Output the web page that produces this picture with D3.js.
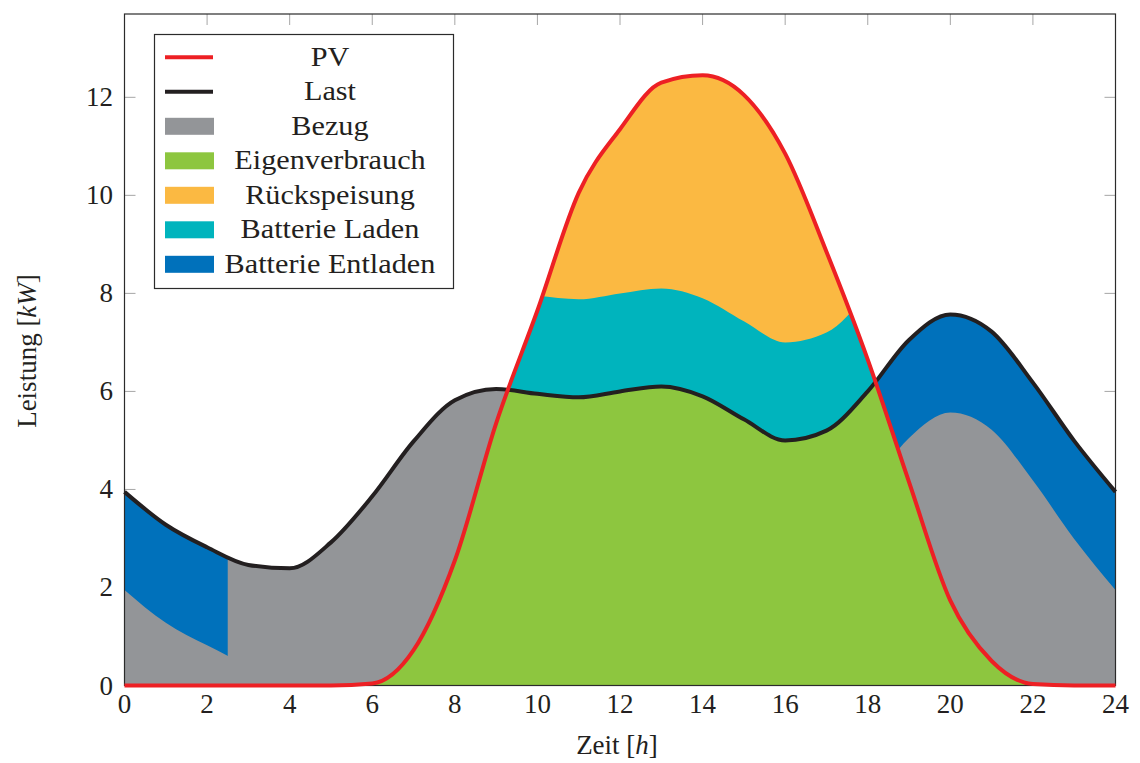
<!DOCTYPE html>
<html>
<head>
<meta charset="utf-8">
<script src="https://cdn.jsdelivr.net/npm/d3@7"></script>
<style>
  html, body { margin: 0; padding: 0; background: #fff; }
  svg { display: block; }
  text { font-family: "Liberation Serif", "DejaVu Serif", serif; fill: #231f20; }
</style>
</head>
<body>
<svg id="chart" width="1140" height="763"></svg>
<script>
// Time of day [h]
const hours = [0, 1, 2, 3, 4, 5, 6, 7, 8, 9, 10, 11, 12, 13, 14, 15, 16, 17, 18, 19, 20, 21, 22, 23, 24];
// PV generation [kW]
const pvPower = [0, 0, 0, 0, 0, 0, 0.04, 0.72, 2.55, 5.35, 7.65, 10.05, 11.35, 12.3, 12.45, 12.05, 10.85, 8.85, 6.65, 4.15, 1.73, 0.5, 0.03, 0, 0];
// Household load [kW]
const loadPower = [3.95, 3.28, 2.82, 2.46, 2.39, 2.92, 3.86, 4.98, 5.82, 6.05, 5.95, 5.88, 6.0, 6.1, 5.9, 5.43, 5.0, 5.2, 6.0, 7.05, 7.57, 7.22, 6.18, 4.99, 3.95];
// Battery: charge/discharge power [kW] and the periods in which it discharges [h]
const batteryPower = 2;
const dischargeWindows = [[0, 2.5], [18, 24]];

const xTicks = [0, 2, 4, 6, 8, 10, 12, 14, 16, 18, 20, 22, 24];
const yTicks = [0, 2, 4, 6, 8, 10, 12];
const yMax = 13.7;

const seriesNames = ["PV", "Last", "Bezug", "Eigenverbrauch", "Rückspeisung", "Batterie Laden", "Batterie Entladen"];

// ---- styling ----
const colors = {
  pv: "#ed2024",
  load: "#231f20",
  grid: "#939598",
  self: "#8dc63f",
  feed: "#fbb942",
  charge: "#00b4bd",
  discharge: "#0071bb"
};
const legendStyle = [
  { type: "line", color: colors.pv },
  { type: "line", color: colors.load },
  { type: "box", color: colors.grid },
  { type: "box", color: colors.self },
  { type: "box", color: colors.feed },
  { type: "box", color: colors.charge },
  { type: "box", color: colors.discharge }
];

const svg = d3.select("#chart");
const plot = { left: 124.5, right: 1115.5, top: 14, bottom: 685.5 };
const fontSize = 27;

const x = d3.scaleLinear().domain([0, 24]).range([plot.left, plot.right]);
const y = d3.scaleLinear().domain([0, yMax]).range([plot.bottom, plot.top]);

const rows = hours.map((h, i) => ({ h, pv: pvPower[i], load: loadPower[i] }));
const curve = d3.curveMonotoneX;

const defs = svg.append("defs");
defs.append("clipPath").attr("id", "plotClip")
  .append("rect")
  .attr("x", plot.left).attr("y", plot.top)
  .attr("width", plot.right - plot.left).attr("height", plot.bottom - plot.top);

// region under the PV curve
defs.append("clipPath").attr("id", "underPV")
  .append("path")
  .attr("d", d3.area().curve(curve).x(d => x(d.h)).y0(y(0)).y1(d => y(d.pv))(rows));

// periods in which the battery discharges
const dc = defs.append("clipPath").attr("id", "dischargeClip");
dischargeWindows.forEach(([a, b]) => {
  dc.append("rect")
    .attr("x", x(a)).attr("y", plot.top)
    .attr("width", x(b) - x(a)).attr("height", plot.bottom - plot.top);
});

// ---- ticks (drawn beneath the areas) ----
const tickLen = 11;
const ticks = svg.append("g").attr("stroke", "#a6a6a6").attr("stroke-width", 1);
xTicks.forEach(t => {
  ticks.append("line").attr("x1", x(t)).attr("x2", x(t)).attr("y1", plot.bottom).attr("y2", plot.bottom - tickLen);
  ticks.append("line").attr("x1", x(t)).attr("x2", x(t)).attr("y1", plot.top).attr("y2", plot.top + tickLen);
});
yTicks.forEach(t => {
  ticks.append("line").attr("x1", plot.left).attr("x2", plot.left + tickLen).attr("y1", y(t)).attr("y2", y(t));
  ticks.append("line").attr("x1", plot.right).attr("x2", plot.right - tickLen).attr("y1", y(t)).attr("y2", y(t));
});

// ---- energy flow areas ----
const areas = svg.append("g").attr("clip-path", "url(#plotClip)");

// grid import: everything under the load
areas.append("path")
  .attr("fill", colors.grid)
  .attr("d", d3.area().curve(curve).x(d => x(d.h)).y0(y(0)).y1(d => y(d.load))(rows));

// battery discharge: top band of the load during discharge periods
areas.append("g").attr("clip-path", "url(#dischargeClip)")
  .append("path")
  .attr("fill", colors.discharge)
  .attr("d", d3.area().curve(curve).x(d => x(d.h))
    .y0(d => y(d.load - batteryPower)).y1(d => y(d.load))(rows));

// self consumption: PV up to the load
areas.append("path")
  .attr("fill", colors.self)
  .attr("d", d3.area().curve(curve).x(d => x(d.h)).y0(y(0)).y1(d => y(d.pv))(rows));

// feed-in: PV above load
areas.append("g").attr("clip-path", "url(#underPV)")
  .append("path")
  .attr("fill", colors.feed)
  .attr("d", d3.area().curve(curve).x(d => x(d.h)).y0(d => y(d.load)).y1(y(yMax))(rows));

// battery charging: first band of PV surplus above the load
areas.append("g").attr("clip-path", "url(#underPV)")
  .append("path")
  .attr("fill", colors.charge)
  .attr("d", d3.area().curve(curve).x(d => x(d.h))
    .y0(d => y(d.load)).y1(d => y(d.load + batteryPower))(rows));

// ---- frame ----
svg.append("rect")
  .attr("x", plot.left).attr("y", plot.top)
  .attr("width", plot.right - plot.left).attr("height", plot.bottom - plot.top)
  .attr("fill", "none").attr("stroke", "#2b2b2b").attr("stroke-width", 1.2);

// ---- lines ----
svg.append("path")
  .attr("fill", "none").attr("stroke", colors.load).attr("stroke-width", 4)
  .attr("stroke-linejoin", "round")
  .attr("d", d3.line().curve(curve).x(d => x(d.h)).y(d => y(d.load))(rows));
svg.append("path")
  .attr("fill", "none").attr("stroke", colors.pv).attr("stroke-width", 4)
  .attr("stroke-linejoin", "round")
  .attr("d", d3.line().curve(curve).x(d => x(d.h)).y(d => y(d.pv))(rows));

// ---- tick labels ----
const labels = svg.append("g").attr("font-size", fontSize);
xTicks.forEach(t => {
  labels.append("text").attr("x", x(t)).attr("y", 713).attr("text-anchor", "middle").text(t);
});
yTicks.forEach(t => {
  labels.append("text").attr("x", 113).attr("y", y(t) + 9).attr("text-anchor", "end").text(t);
});

// ---- axis titles ----
const xt = svg.append("text").attr("font-size", fontSize)
  .attr("x", 617).attr("y", 754).attr("text-anchor", "middle");
xt.append("tspan").text("Zeit [");
xt.append("tspan").attr("font-style", "italic").text("h");
xt.append("tspan").text("]");

const yt = svg.append("text").attr("font-size", fontSize)
  .attr("transform", "translate(36,351) rotate(-90)").attr("text-anchor", "middle");
yt.append("tspan").text("Leistung [");
yt.append("tspan").attr("font-style", "italic").text("kW");
yt.append("tspan").text("]");

// ---- legend ----
const legend = svg.append("g");
legend.append("rect")
  .attr("x", 154.5).attr("y", 34.5).attr("width", 299).attr("height", 254)
  .attr("fill", "#fff").attr("stroke", "#2b2b2b").attr("stroke-width", 1.2);
const rowY0 = 57.3, rowStep = 34.5;
seriesNames.forEach((name, i) => {
  const cy = rowY0 + i * rowStep;
  const st = legendStyle[i];
  if (st.type === "line") {
    legend.append("line").attr("x1", 165).attr("x2", 213).attr("y1", cy).attr("y2", cy)
      .attr("stroke", st.color).attr("stroke-width", 4);
  } else {
    legend.append("rect").attr("x", 165).attr("y", cy - 8.5).attr("width", 49).attr("height", 17)
      .attr("fill", st.color);
  }
  const t = legend.append("text").attr("font-size", fontSize)
    .attr("x", 330).attr("y", cy + 8.5).attr("text-anchor", "middle").text(name);
  const w = t.node().getComputedTextLength();
  t.attr("textLength", w * 1.12).attr("lengthAdjust", "spacingAndGlyphs");
});
</script>
</body>
</html>
